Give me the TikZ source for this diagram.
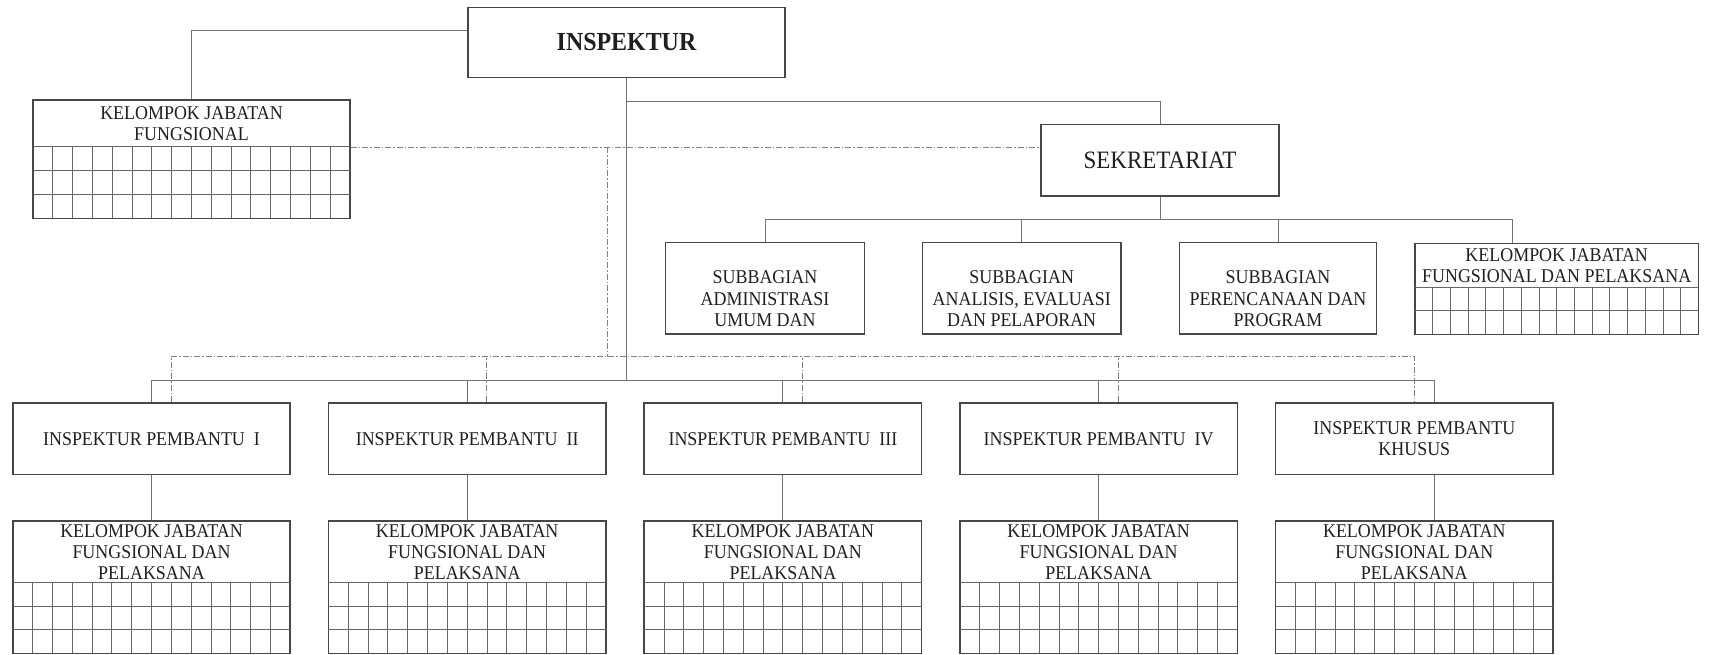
\documentclass[tikz,border=0pt]{standalone}
\usepackage{fontspec}
\setmainfont[FakeStretch=0.92]{Liberation Serif}
\usetikzlibrary{calc}

% horizontal and vertical rules of a staff table below a box header
% #1 left, #2 right, #3 header rule y, #4 bottom y, #5 number of columns, #6 row rules
\newcommand{\cellgrid}[6]{%
  \draw[gridline] ({#1},#3) -- ({#2},#3);
  \foreach \r in {#6} \draw[gridline] ({#1},\r) -- ({#2},\r);
  \pgfmathsetmacro{\gl}{#1}
  \pgfmathsetmacro{\cw}{((#2)-(#1))/#5}
  \pgfmathtruncatemacro{\nm}{#5-1}
  \foreach \k in {1,...,\nm} \draw[gridline] ({\gl+\k*\cw},#3) -- ({\gl+\k*\cw},#4);
}

\begin{document}
\begin{tikzpicture}[x=1pt,y=-1pt,
  unit/.style={draw=black!72, line width=1.6pt, inner sep=0pt, align=center,
    text=black!88, font=\fontsize{19.5}{21.3}\selectfont},
  label/.style={inner sep=0pt, align=center, text=black!88,
    font=\fontsize{19.5}{21.3}\selectfont},
  conn/.style={draw=black!55, line width=1pt},
  dconn/.style={draw=black!50, line width=0.9pt, dash pattern=on 6pt off 2pt on 1.5pt off 2pt},
  gridline/.style={draw=black!60, line width=0.9pt}]

\fill[white] (0,0) rectangle (1717,654);
\useasboundingbox (0,0) rectangle (1717,654);

% top level
\node[unit, minimum width=317pt, minimum height=70pt,
  font=\fontsize{26}{28}\selectfont\bfseries] (insp) at (626.5,42.5) {INSPEKTUR};

% functional staff group of the inspector
\node[unit, minimum width=317pt, minimum height=118.3pt] (kjf0) at (191.5,159.2) {};
\node[label] (kjf0t) at (191.5,123.4) {KELOMPOK JABATAN\\FUNGSIONAL};
\cellgrid{33}{350}{146.7}{218.3}{16}{170.7,194.3}

% secretariat and its subdivisions
\node[unit, minimum width=238.4pt, minimum height=71.7pt,
  font=\fontsize{25}{27}\selectfont] (sek) at (1160,160.2) {SEKRETARIAT};

\node[unit, minimum width=198.7pt, minimum height=91.7pt] (sa1) at (765,288.2) {};
\node[label] (sa1t) at (765,298.7) {SUBBAGIAN\\ADMINISTRASI\\UMUM DAN};
\node[unit, minimum width=198.7pt, minimum height=91.7pt] (sa2) at (1021.7,288.2) {};
\node[label] (sa2t) at (1021.7,298.7) {SUBBAGIAN\\ANALISIS, EVALUASI\\DAN PELAPORAN};
\node[unit, minimum width=197pt, minimum height=91.7pt] (sa3) at (1278,288.2) {};
\node[label] (sa3t) at (1278,298.7) {SUBBAGIAN\\PERENCANAAN DAN\\PROGRAM};

\node[unit, minimum width=283.5pt, minimum height=91pt] (kjfS) at (1556.7,288.8) {};
\node[label] (kjfSt) at (1556.7,265.8) {KELOMPOK JABATAN\\FUNGSIONAL DAN PELAKSANA};
\cellgrid{1415}{1698.5}{287.7}{334.3}{16}{310.7}

% assistant inspectors and their staff groups
\foreach \n/\x/\t in {ip1/151.5/{INSPEKTUR PEMBANTU\ \ I},
                      ip2/467.2/{INSPEKTUR PEMBANTU\ \ II},
                      ip3/782.9/{INSPEKTUR PEMBANTU\ \ III},
                      ip4/1098.6/{INSPEKTUR PEMBANTU\ \ IV},
                      ipk/1414.3/{INSPEKTUR PEMBANTU\\KHUSUS}} {
  \node[unit, minimum width=277.5pt, minimum height=71.5pt] (\n) at (\x,438.8) {\t};
}
\foreach \n/\x in {kjf1/151.5, kjf2/467.2, kjf3/782.9, kjf4/1098.6, kjf5/1414.3} {
  \node[unit, minimum width=277.5pt, minimum height=132.3pt] (\n) at (\x,587.2) {};
  \node[label] (\n t) at (\x,552.3) {KELOMPOK JABATAN\\FUNGSIONAL DAN\\PELAKSANA};
  \cellgrid{\x-138.75}{\x+138.75}{582.5}{653.3}{14}{606,629.8}
}

% bus levels
\coordinate (jS) at (0,101);
\coordinate (sB) at (0,219);
\coordinate (dA) at (0,147.2);
\coordinate (dB) at (0,356.5);
\coordinate (busB) at (0,380.5);
\coordinate (dV) at (607,147.2);
\coordinate (ipkS) at ([xshift=20pt]ipk.north);
\coordinate (ipkB) at ([xshift=20pt]ipk.south);
\coordinate (kjf5T) at ([xshift=20pt]kjf5.north);
\coordinate (kjfSc) at ([xshift=-44.2pt]kjfS.north);
\foreach \n in {ip1,ip2,ip3,ip4} \coordinate (\n d) at ([xshift=19.5pt]\n.north);

% solid lines of command
\draw[conn] ([yshift=12.5pt]insp.west) -| (kjf0.north);
\draw[conn] (insp.south) -- (insp.south |- busB);
\draw[conn] (insp.south |- jS) -| (sek.north);
\draw[conn] (sek.south) -- (sek.south |- sB);
\draw[conn] (sa1.north) |- (kjfSc |- sB) -- (kjfSc);
\draw[conn] (sa2.north) -- (sa2.north |- sB);
\draw[conn] (sa3.north) -- (sa3.north |- sB);
\draw[conn] (ip1.north) |- (ipkS |- busB) -- (ipkS);
\foreach \n in {ip2,ip3,ip4} \draw[conn] (\n.north) -- (\n.north |- busB);
\draw[conn] (ip1.south) -- (kjf1.north);
\draw[conn] (ip2.south) -- (kjf2.north);
\draw[conn] (ip3.south) -- (kjf3.north);
\draw[conn] (ip4.south) -- (kjf4.north);
\draw[conn] (ipkB) -- (kjf5T);

% lines of coordination
\draw[dconn] (kjf0.east |- dA) -- (sek.west |- dA);
\draw[dconn] (dV) -- (dV |- dB);
\draw[dconn] (ip1d |- dB) -- (ipk.north |- dB) -- (ipk.north);
\foreach \n in {ip1,ip2,ip3,ip4} \draw[dconn] (\n d) -- (\n d |- dB);
\end{tikzpicture}
\end{document}
